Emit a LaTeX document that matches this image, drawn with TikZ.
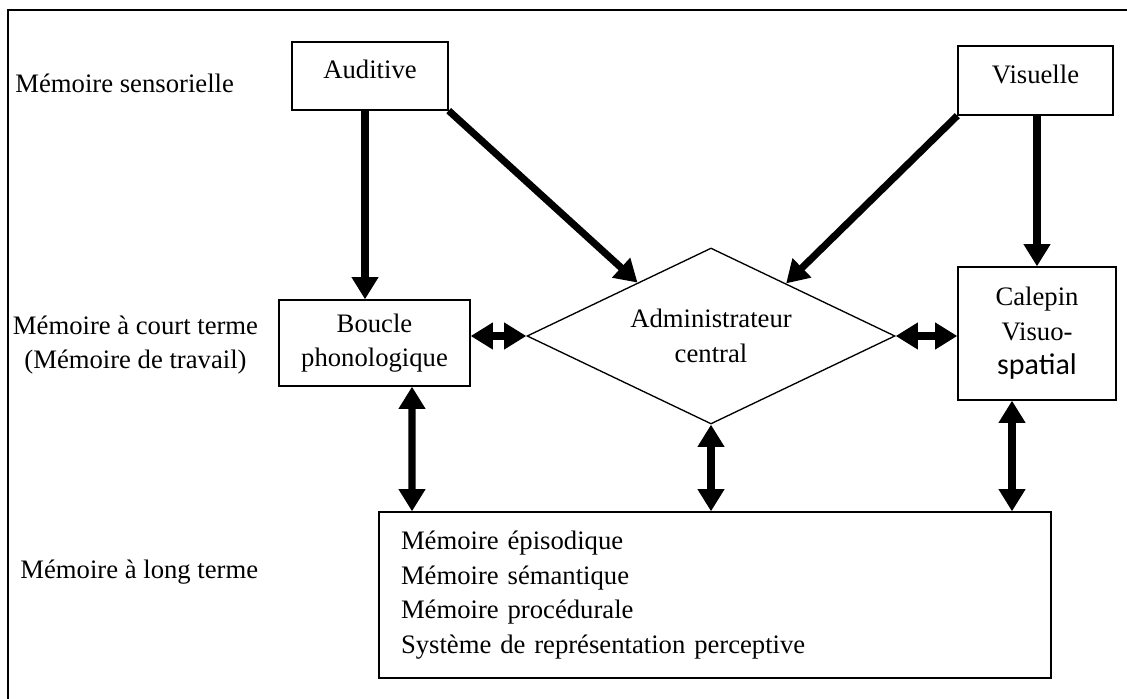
\documentclass[tikz,border=0pt]{standalone}
\usepackage{fontspec}
\setmainfont{Liberation Serif}
\newfontfamily\calibri{Carlito}
\usetikzlibrary{arrows.meta,shapes.geometric}
\begin{document}
\begin{tikzpicture}[x=0.45pt,y=-0.45pt]
% Styles (MODIFIABLES)
\def\Unite{0.45pt}
\tikzstyle{texte}=[font=\fontsize{12}{15.5}\selectfont]
\tikzstyle{boite}=[texte,draw,rectangle,line width=0.6pt,align=center,inner sep=0pt]
\tikzstyle{losange}=[texte,draw,diamond,aspect=2,line width=0.6pt,align=center,inner sep=0pt]
\tikzstyle{etiquette}=[texte,inner sep=0pt]
\tikzstyle{fleche}=[-{Triangle[length=10pt,width=11.5pt]},line width=3.2pt]
\tikzstyle{flechedouble}=[{Triangle[length=10pt,width=11.5pt]}-{Triangle[length=10pt,width=11.5pt]},line width=3.2pt]
% Cadre
\useasboundingbox (0,0) rectangle (1127,699);
\draw[line width=0.6pt] (8,699) -- (8,10) -- (1127,10);
% Etiquettes des niveaux
\node[etiquette,anchor=west] (LSens) at (15,83) {Mémoire sensorielle};
\node[etiquette,align=center] (LCourt) at (135.5,345) {Mémoire à court terme\\(Mémoire de travail)};
\node[etiquette,anchor=west] (LLong) at (20,572) {Mémoire à long terme};
% Noeuds (MODIFIABLES : Styles et Dimensions)
\node[boite,minimum width={156*\Unite},minimum height={68*\Unite},text depth=6pt] (Auditive) at (370,76) {Auditive};
\node[boite,minimum width={155*\Unite},minimum height={69*\Unite},text depth=6pt] (Visuelle) at (1035.5,80.5) {Visuelle};
\node[boite,minimum width={191*\Unite},minimum height={86*\Unite}] (Boucle) at (374.5,343) {Boucle\\phonologique};
\node[losange,minimum width={368*\Unite},minimum height={176*\Unite}] (Admin) at (711,336) {Administrateur\\central};
\node[boite,minimum width={158*\Unite},minimum height={133*\Unite}] (Calepin) at (1037,333.5) {Calepin\\Visuo-\\{\calibri\fontsize{13.5}{15.5}\selectfont spatial}};
\node[boite,text width={628*\Unite},align=left,inner xsep={22*\Unite},minimum height={166*\Unite}] (LongTerme) at (715,595) {Mémoire épisodique\\Mémoire sémantique\\Mémoire procédurale\\Système de représentation perceptive};
% Arcs (MODIFIABLES : Styles)
\draw[fleche] ([xshift=-5*\Unite]Auditive.south) -- ([xshift=-9.5*\Unite]Boucle.north);
\draw[fleche] (Auditive.south east) -- (Admin.144);
\draw[fleche] (Visuelle.south west) -- (Admin.35);
\draw[fleche] (Visuelle.south -| Calepin.north) -- (Calepin.north);
\draw[flechedouble] (Boucle.east |- Admin.west) -- (Admin.west);
\draw[flechedouble] (Admin.east) -- (Admin.east -| Calepin.west);
\draw[flechedouble] ([xshift=37.5*\Unite]Boucle.south) -- ([xshift=-303*\Unite]LongTerme.north);
\draw[flechedouble] (Admin.south) -- (Admin.south |- LongTerme.north);
\draw[flechedouble] ([xshift=-25*\Unite]Calepin.south) -- ([xshift=297*\Unite]LongTerme.north);
\end{tikzpicture}
\end{document}
